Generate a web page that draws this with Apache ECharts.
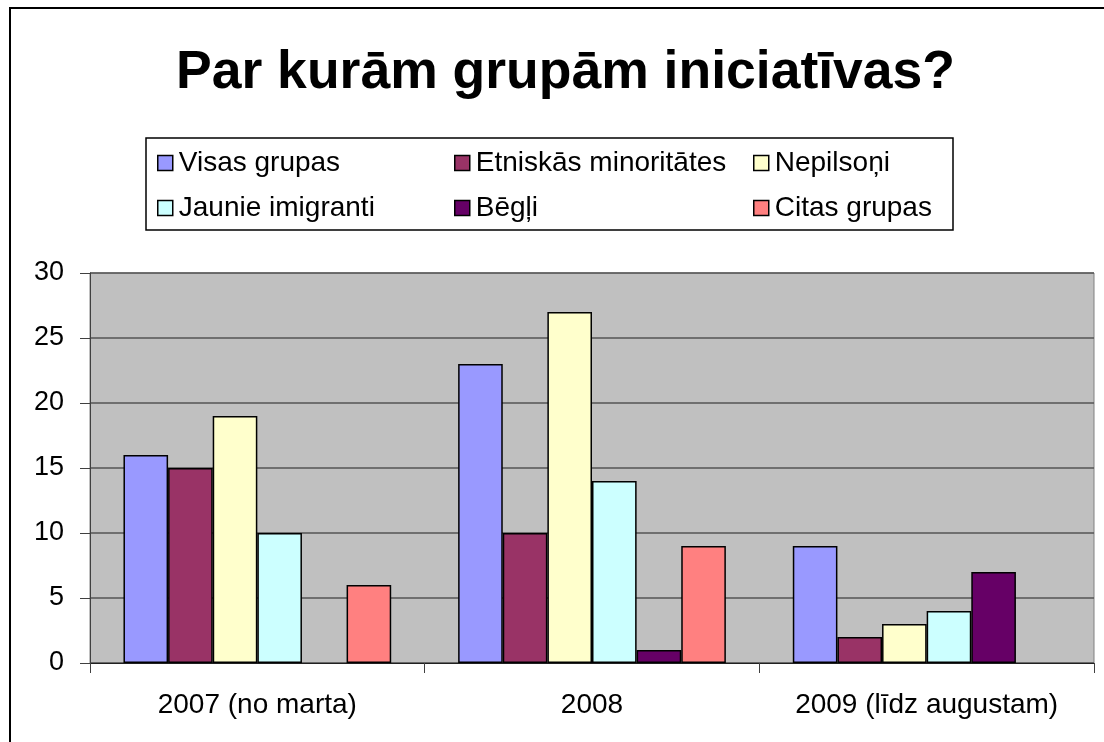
<!DOCTYPE html>
<html>
<head>
<meta charset="utf-8">
<script src="https://cdn.jsdelivr.net/npm/echarts@6/dist/echarts.min.js"></script>
<style>
  html, body { margin: 0; padding: 0; background: #fff; }
  #chart { width: 1104px; height: 742px; }
</style>
</head>
<body>
<div id="chart"></div>
<script>
// categories and values
const periods = ['2007 (no marta)', '2008', '2009 (līdz augustam)'];
const visasGrupas = [16, 23, 9];
const etniskasMinoritates = [15, 10, 2];
const nepilsoni = [19, 27, 3];
const jaunieImigranti = [10, 14, 4];
const begli = [0, 1, 7];
const citasGrupas = [6, 9, 0];

const seriesNames = ['Visas grupas', 'Etniskās minoritātes', 'Nepilsoņi', 'Jaunie imigranti', 'Bēgļi', 'Citas grupas'];
const seriesData = [visasGrupas, etniskasMinoritates, nepilsoni, jaunieImigranti, begli, citasGrupas];
const colors = ['#9999FF', '#993366', '#FFFFCC', '#CCFFFF', '#660066', '#FF8080'];

const font = '"Liberation Sans", Arial, sans-serif';

const chart = echarts.init(document.getElementById('chart'));

// legend is laid out as three columns of two rows
function legendCol(names, left) {
  return {
    orient: 'vertical',
    left: left,
    top: 143,
    itemWidth: 15,
    itemHeight: 15,
    itemGap: 15,
    icon: 'rect',
    selectedMode: false,
    data: names,
    itemStyle: { borderColor: '#000', borderWidth: 1.5 },
    textStyle: { fontFamily: font, fontSize: 28, color: '#000', lineHeight: 30, padding: [0, 0, 0, 1] }
  };
}

chart.setOption({
  animation: false,
  color: colors,
  title: {
    text: 'Par kurām grupām iniciatīvas?',
    left: 171,
    top: 41,
    textStyle: { fontFamily: font, fontSize: 53.5, fontWeight: 'bold', color: '#000' }
  },
  legend: [
    legendCol(['Visas grupas', 'Jaunie imigranti'], 152),
    legendCol(['Etniskās minoritātes', 'Bēgļi'], 449),
    legendCol(['Nepilsoņi', 'Citas grupas'], 748)
  ],
  graphic: [
    {
      type: 'rect', z: -10,
      shape: { x: 10, y: 8, width: 1200, height: 1000 },
      style: { fill: 'none', stroke: '#000', lineWidth: 2 }
    },
    {
      type: 'rect', z: -5,
      shape: { x: 146, y: 138, width: 807, height: 92 },
      style: { fill: '#fff', stroke: '#000', lineWidth: 1.5 }
    }
  ],
  grid: {
    left: 90, top: 273, right: 10, bottom: 79,
    show: true,
    backgroundColor: '#C0C0C0',
    borderColor: '#808080',
    borderWidth: 1
  },
  xAxis: {
    type: 'category',
    data: periods,
    axisLine: { lineStyle: { color: '#202020', width: 1 } },
    axisTick: { show: true, length: 10, lineStyle: { color: '#404040' } },
    axisLabel: { interval: 0, fontFamily: font, fontSize: 28, color: '#000', margin: 28 }
  },
  yAxis: {
    type: 'value',
    min: 0, max: 30, interval: 5,
    axisLine: { show: true, lineStyle: { color: '#404040', width: 1 } },
    axisTick: { show: true, length: 10, lineStyle: { color: '#404040' } },
    axisLabel: { fontFamily: font, fontSize: 27, color: '#000', margin: 26 },
    splitLine: { lineStyle: { color: '#555', width: 1.5 } }
  },
  series: seriesNames.map((name, i) => ({
    name: name,
    type: 'bar',
    // zero values are left out so no flat border is drawn on the axis
    data: seriesData[i].map(v => (v === 0 ? '-' : v)),
    barGap: '0%',
    barCategoryGap: '20%',
    itemStyle: { color: colors[i], borderColor: '#000', borderWidth: 1.5 }
  }))
});
</script>
</body>
</html>
